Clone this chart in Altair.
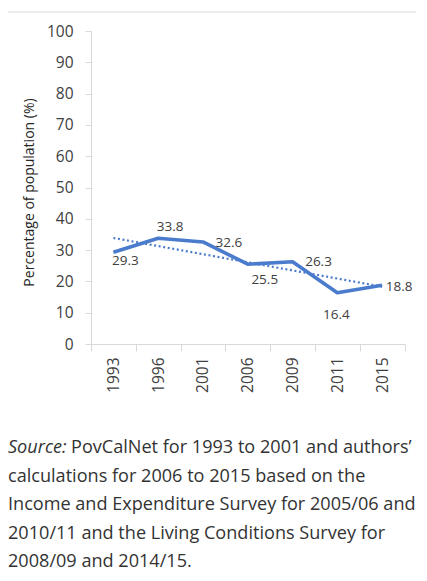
import json
import altair as alt
import pandas as pd

# ---- data ----
years = ["1993", "1996", "2001", "2006", "2009", "2011", "2015"]
values = [29.3, 33.8, 32.6, 25.5, 26.3, 16.4, 18.8]
y_ticks = [0, 10, 20, 30, 40, 50, 60, 70, 80, 90, 100]
y_title = "Percentage of  population (%)"
source_label = "Source:"
source_first_rest = "PovCalNet for 1993 to 2001 and authors\u2019"
source_lines = [
    "calculations for 2006 to 2015 based on the",
    "Income and Expenditure Survey for 2005/06 and",
    "2010/11 and the Living Conditions Survey for",
    "2008/09 and 2014/15.",
]

df = pd.DataFrame({
    "year": years,
    "value": values,
    "pos": [i + 0.5 for i in range(len(years))],
})

FONT = "Open Sans"
BLUE = "#4A7BCD"
GRID = "#d9d9d9"
TXT = "#404040"

W, H = 313.5, 313

x_scale = alt.Scale(domain=[0, len(years)], nice=False, zero=False)
y_scale = alt.Scale(domain=[0, 100], nice=False)

label_expr = ("datum.value % 1 == 0 ? '' : " + json.dumps(years) +
              "[floor(datum.value)]")

x_axis = alt.Axis(
    values=[i * 0.5 for i in range(2 * len(years) + 1)],
    title=None, grid=False,
    tickSize=7, tickColor=GRID, domainColor=GRID,
    tickOpacity={"condition": {"test": "datum.value % 1 != 0", "value": 0}, "value": 1},
    labelExpr=label_expr, labelAngle=270, labelPadding=6,
    labelFontSize=15.5, labelColor=TXT, labelFont=FONT,
    labelOverlap=False, labelFlush=False, labelBound=False,
)
y_axis = alt.Axis(
    values=y_ticks, grid=False, tickSize=6, labelPadding=12,
    tickColor=GRID, domainColor=GRID, labelOverlap=False,
    labelFontSize=15.5, labelColor=TXT, labelFont=FONT,
    title=y_title, titleFont=FONT, titleFontSize=14, titleFontWeight="normal",
    titleColor="#262626", titleX=-58, titleY=161, titleAngle=270,
    titleAlign="center", titleBaseline="alphabetic",
)

base = alt.Chart(df)

line = base.mark_line(color=BLUE, strokeWidth=3.6, strokeJoin="round")

trend = base.transform_regression("pos", "value").mark_line(
    color=BLUE, strokeWidth=2.2, strokeDash=[2, 2.6]
)

# per-label offsets (pixels) matching the reference placement
label_offsets = {
    "1993": (12, 8.5),
    "1996": (12, -11.5),
    "2001": (26, 1),
    "2006": (17, 16),
    "2009": (26, 0),
    "2011": (-1, 22),
    "2015": (17, 1.5),
}
label_layers = []
for yr, (dx, dy) in label_offsets.items():
    label_layers.append(
        base.transform_filter(alt.datum.year == yr).mark_text(
            font=FONT, fontSize=13.5, color=TXT, dx=dx, dy=dy,
            align="center", baseline="middle",
        ).encode(text=alt.Text("value:Q", format=".1f"))
    )

main = alt.layer(line, trend, *label_layers).encode(
    x=alt.X("pos:Q", scale=x_scale, axis=x_axis),
    y=alt.Y("value:Q", scale=y_scale, axis=y_axis),
)

one = pd.DataFrame({"a": [0]})
top_rule = alt.Chart(one).mark_rule(color=GRID, strokeWidth=1).encode(
    x=alt.value(-83), x2=alt.value(325), y=alt.value(-19)
)

SRC_SIZE = 18.1
SRC_COL = "#333333"
src_a = alt.Chart(one).mark_text(
    text=source_label, font=FONT, fontSize=SRC_SIZE, fontStyle="italic",
    color=SRC_COL, align="left", baseline="alphabetic",
).encode(x=alt.value(-83), y=alt.value(422))
src_b = alt.Chart(one).mark_text(
    text=source_first_rest, font=FONT, fontSize=SRC_SIZE,
    color=SRC_COL, align="left", baseline="alphabetic",
).encode(x=alt.value(-20), y=alt.value(422))
src_c = alt.Chart(one).mark_text(
    text=source_lines, font=FONT, fontSize=SRC_SIZE, lineHeight=28.6,
    color=SRC_COL, align="left", baseline="alphabetic",
).encode(x=alt.value(-83), y=alt.value(450.6))

chart = alt.layer(
    main, top_rule, src_a, src_b, src_c
).properties(
    width=W, height=H,
    autosize=alt.AutoSizeParams(type="none"),
    padding={"left": 83, "top": 23, "right": 14.5, "bottom": 229},
).configure_view(stroke=None)

chart.save("out.html", embed_options={"renderer": "svg", "actions": False})
